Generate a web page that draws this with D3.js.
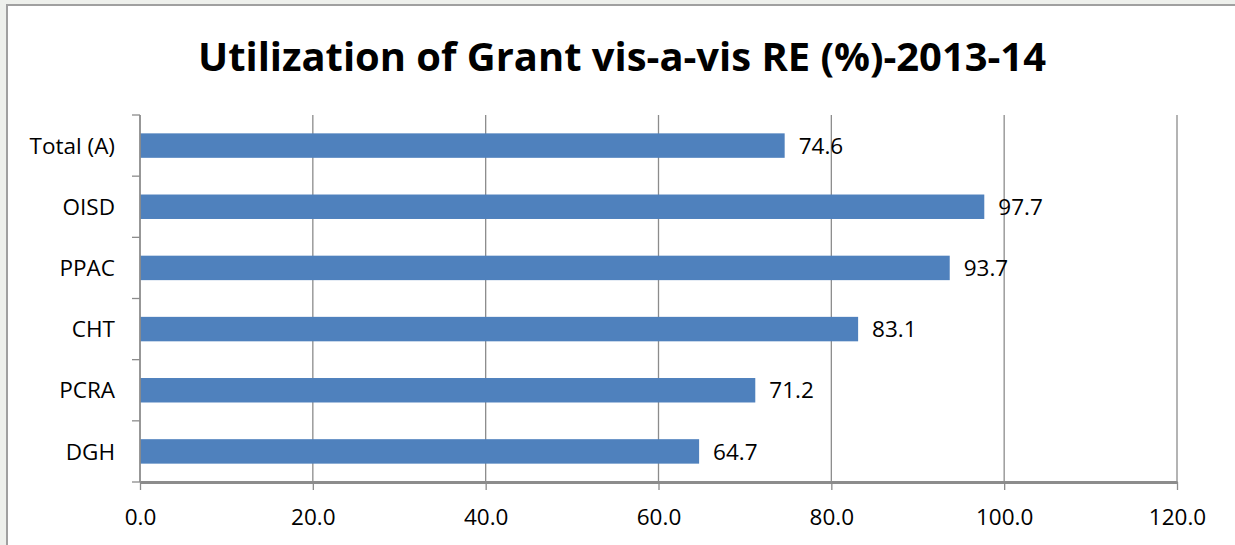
<!DOCTYPE html>
<html>
<head>
<meta charset="utf-8">
<script src="https://cdn.jsdelivr.net/npm/d3@7"></script>
<style>
  body { margin: 0; background: #eef0ec; }
  text { font-family: "Open Sans", "Noto Sans", sans-serif; fill: #000; }
</style>
</head>
<body>
<div id="chart"></div>
<script>
var categories = ["Total (A)", "OISD", "PPAC", "CHT", "PCRA", "DGH"];
var values = [74.6, 97.7, 93.7, 83.1, 71.2, 64.7];
var xTicks = [0, 20, 40, 60, 80, 100, 120];
var title = "Utilization of Grant vis-a-vis RE (%)-2013-14";

function main() {
    var width = 1235, height = 545;
    var margin = {left: 140, right: 58, top: 115, bottom: 63};

    var svg = d3.select("#chart").append("svg")
                .attr("width", width).attr("height", height);

    // frame
    svg.append("rect").attr("x", 7).attr("y", 5)
        .attr("width", width).attr("height", height)
        .attr("fill", "#fff").attr("stroke", "#a0a0a0").attr("stroke-width", 2);

    var x = d3.scaleLinear().domain([0, 120]).range([margin.left, width - margin.right]);
    var y = d3.scaleBand().domain(categories)
              .range([margin.top, height - margin.bottom])
              .paddingInner(0.6).paddingOuter(0.3);

    // grid lines
    svg.append("g").selectAll("line").data(xTicks.slice(1)).enter().append("line")
        .attr("x1", function(d){ return x(d); }).attr("x2", function(d){ return x(d); })
        .attr("y1", margin.top).attr("y2", height - margin.bottom)
        .attr("stroke", "#8c8c8c").attr("stroke-width", 1.3);

    // bars
    svg.append("g").selectAll("rect").data(values).enter().append("rect")
        .attr("x", x(0))
        .attr("y", function(d, i){ return y(categories[i]); })
        .attr("width", function(d){ return x(d) - x(0); })
        .attr("height", y.bandwidth())
        .attr("fill", "#4f81bd");

    // value labels
    svg.append("g").selectAll("text").data(values).enter().append("text")
        .attr("x", function(d){ return x(d) + 14; })
        .attr("y", function(d, i){ return y(categories[i]) + y.bandwidth() / 2; })
        .attr("dy", "0.36em")
        .style("font-size", "22.5px")
        .text(function(d){ return d.toFixed(1); });

    // x axis
    var xAxis = d3.axisBottom(x).tickValues(xTicks)
                  .tickFormat(function(d){ return d.toFixed(1); })
                  .tickSize(8).tickPadding(19).tickSizeOuter(0);
    var gx = svg.append("g").attr("transform", "translate(0," + (height - margin.bottom) + ")")
                .call(xAxis);
    gx.select(".domain").attr("stroke", "#8c8c8c").attr("stroke-width", 3);
    gx.selectAll(".tick line").attr("stroke", "#8c8c8c").attr("stroke-width", 1.3);
    gx.selectAll(".tick text").style("font-size", "22.5px")
        .style("font-family", "'Open Sans', sans-serif");

    // y axis with ticks between categories
    var yBounds = d3.range(categories.length + 1).map(function(i){
        return margin.top + i * (height - margin.bottom - margin.top) / categories.length;
    });
    var gy = svg.append("g");
    gy.append("line").attr("x1", x(0)).attr("x2", x(0))
        .attr("y1", margin.top).attr("y2", height - margin.bottom)
        .attr("stroke", "#8c8c8c").attr("stroke-width", 1.8);
    gy.selectAll("line.tk").data(yBounds).enter().append("line").attr("class", "tk")
        .attr("x1", x(0) - 8).attr("x2", x(0))
        .attr("y1", function(d){ return d; }).attr("y2", function(d){ return d; })
        .attr("stroke", "#8c8c8c").attr("stroke-width", 1.3);
    gy.selectAll("text").data(categories).enter().append("text")
        .attr("x", x(0) - 25)
        .attr("y", function(d){ return y(d) + y.bandwidth() / 2; })
        .attr("dy", "0.36em")
        .attr("text-anchor", "end")
        .style("font-size", "22.5px")
        .text(function(d){ return d; });

    // title
    svg.append("text").attr("x", 622).attr("y", 71)
        .attr("text-anchor", "middle")
        .style("font-size", "39px").style("font-weight", "bold")
        .attr("textLength", 848).attr("lengthAdjust", "spacingAndGlyphs")
        .text(title);
}
main();
</script>
</body>
</html>
